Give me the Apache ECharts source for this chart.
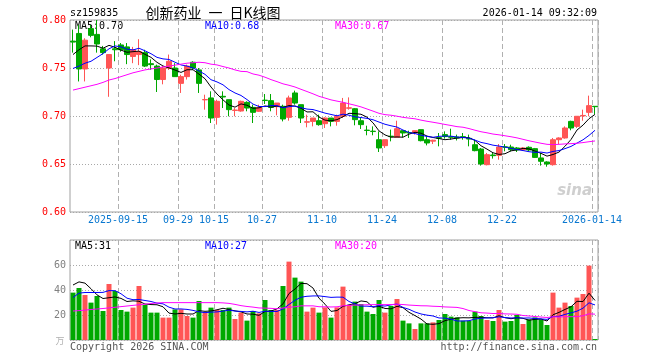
<!DOCTYPE html>
<html><head><meta charset="utf-8">
<script src="https://cdn.jsdelivr.net/npm/echarts@6/dist/echarts.min.js"></script>
<style>html,body{margin:0;padding:0;background:#fff}#c{width:660px;height:360px}</style>
</head><body><div id="c"></div>
<script>
const dates = ['2025-09-03','2025-09-04','2025-09-05','2025-09-08','2025-09-09','2025-09-10','2025-09-11','2025-09-12',
'2025-09-15','2025-09-16','2025-09-17','2025-09-18','2025-09-19','2025-09-22','2025-09-23','2025-09-24','2025-09-25','2025-09-26',
'2025-09-29','2025-09-30','2025-10-09','2025-10-10','2025-10-13','2025-10-14','2025-10-15','2025-10-16','2025-10-17',
'2025-10-20','2025-10-21','2025-10-22','2025-10-23','2025-10-24','2025-10-27','2025-10-28','2025-10-29','2025-10-30','2025-10-31',
'2025-11-03','2025-11-04','2025-11-05','2025-11-06','2025-11-07','2025-11-10','2025-11-11','2025-11-12','2025-11-13','2025-11-14',
'2025-11-17','2025-11-18','2025-11-19','2025-11-20','2025-11-21','2025-11-24','2025-11-25','2025-11-26','2025-11-27','2025-11-28',
'2025-12-01','2025-12-02','2025-12-03','2025-12-04','2025-12-05','2025-12-08','2025-12-09','2025-12-10','2025-12-11','2025-12-12',
'2025-12-15','2025-12-16','2025-12-17','2025-12-18','2025-12-19','2025-12-22','2025-12-23','2025-12-24','2025-12-25','2025-12-26',
'2025-12-29','2025-12-30','2025-12-31','2026-01-05','2026-01-06','2026-01-07','2026-01-08','2026-01-09','2026-01-12','2026-01-13','2026-01-14'];

const opens = [0.778,0.786,0.749,0.791,0.785,0.770,0.750,0.770,0.774,0.772,
0.762,0.764,0.766,0.7545,0.752,0.738,0.750,0.750,0.734,0.741,
0.756,0.748,0.7168,0.7188,0.6986,0.7205,0.717,0.7058,0.7052,0.7142,
0.709,0.7049,0.7165,0.716,0.7097,0.7101,0.6986,0.724,0.7118,0.6936,
0.6944,0.6951,0.692,0.6979,0.6944,0.6997,0.7081,0.7076,0.6951,0.6853,
0.6842,0.6753,0.6691,0.679,0.6778,0.6847,0.6828,0.6823,0.6858,0.6753,
0.6738,0.6775,0.6806,0.6785,0.6781,0.6785,0.6767,0.6701,0.6656,0.6493,
0.6594,0.659,0.6679,0.6677,0.6667,0.6646,0.6674,0.666,0.6563,0.6521,
0.6493,0.6753,0.6771,0.6944,0.6892,0.7001,0.7038,0.7101];
const closes = [0.777,0.749,0.779,0.784,0.775,0.766,0.764,0.769,0.769,0.764,
0.769,0.767,0.752,0.7535,0.738,0.750,0.757,0.741,0.741,0.752,
0.750,0.734,0.7172,0.6979,0.7153,0.7198,0.7066,0.7062,0.7153,0.7083,
0.7038,0.709,0.7161,0.709,0.7135,0.6969,0.7188,0.7135,0.6979,0.694,
0.6979,0.691,0.6979,0.6944,0.6997,0.7135,0.7085,0.6962,0.691,0.6849,
0.6838,0.6667,0.6753,0.6786,0.6868,0.6823,0.6824,0.6847,0.6743,0.6719,
0.6748,0.6768,0.6785,0.6778,0.6771,0.6778,0.676,0.6639,0.65,0.6597,
0.6587,0.6677,0.6675,0.6649,0.6646,0.6667,0.6646,0.6569,0.6528,0.65,
0.6753,0.6771,0.6875,0.6875,0.6997,0.7006,0.7108,0.7097];
const lows = [0.766,0.736,0.736,0.782,0.766,0.764,0.720,0.757,0.767,0.754,
0.755,0.753,0.751,0.748,0.725,0.733,0.748,0.741,0.724,0.738,
0.748,0.724,0.7066,0.6927,0.691,0.7083,0.6997,0.6997,0.7045,0.7049,
0.6927,0.7042,0.7125,0.7049,0.7007,0.6944,0.6951,0.7118,0.6927,0.6882,
0.6892,0.6899,0.6875,0.6892,0.6899,0.6979,0.7066,0.6903,0.6865,0.6799,
0.6799,0.6625,0.6667,0.6736,0.6778,0.6778,0.6771,0.6806,0.6736,0.6694,
0.6708,0.6684,0.6764,0.6753,0.6745,0.6753,0.6684,0.6632,0.6483,0.6486,
0.6556,0.6545,0.6632,0.6632,0.6625,0.6635,0.6632,0.6563,0.6483,0.6472,
0.6483,0.6708,0.6764,0.6851,0.6875,0.6951,0.6997,0.7021];
const highs = [0.790,0.795,0.781,0.795,0.800,0.773,0.764,0.778,0.776,0.776,
0.772,0.780,0.769,0.759,0.7535,0.752,0.764,0.755,0.743,0.7535,
0.757,0.750,0.7222,0.7257,0.717,0.7257,0.717,0.7083,0.716,0.7153,
0.7118,0.7118,0.7229,0.7229,0.7135,0.7118,0.7212,0.7264,0.7118,0.7014,
0.6979,0.7014,0.6986,0.6979,0.7014,0.7188,0.7194,0.7083,0.6986,0.6899,
0.6892,0.684,0.6753,0.6858,0.6951,0.6847,0.6847,0.6847,0.6858,0.6788,
0.6753,0.6823,0.684,0.6868,0.6806,0.6823,0.6806,0.6753,0.6667,0.6615,
0.6615,0.6708,0.6708,0.6701,0.6677,0.6677,0.6684,0.6667,0.6615,0.6528,
0.6771,0.6778,0.6892,0.6951,0.6997,0.7066,0.7212,0.7101];
const volumes = [37.9,41.6,36,29.9,35.2,23.2,44.8,39.2,24,22.7,
25.9,43.2,28,21.9,21.9,17.9,17.9,24.5,24.5,19.2,
17.9,31.2,21.9,25.9,24,24,25.9,16.8,21.9,15.5,
23.2,21.3,32,24,24,43.2,62.7,49.9,46.7,22.7,
25.9,21.9,26.1,17.9,26.1,42.7,28,30.7,28.8,22.7,
20.8,32,21.9,27.2,32.8,15.5,13.3,8.8,13.3,13.3,
14.1,16,20.8,18.7,18.1,15.5,15.5,22.7,19.2,16,
15.2,24,14.7,15.2,20,12.8,16.5,18.1,16.5,12,
37.9,25.9,29.9,27.2,33.9,36.8,59.5,0.8];

// moving-average values for bars before each window is full
const ma5Head = [0.764,0.769,0.773,0.773];
const ma10Head = [0.7495,0.752,0.755,0.757,0.761,0.765,0.770,0.773,0.772];
const ma30Head = [0.727,0.7285,0.730,0.7315,0.733,0.735,0.7375,0.739,0.741,0.743,0.745,0.7465,0.748,0.749,0.750,0.751,0.752,0.753,0.754,0.755,0.7555,0.756,0.7555,0.754,0.7532,0.7515,0.750,0.748,0.7465];
const vma5Head = [44,46.5,45.5,41];
const vma10Head = [34,37.5,38,38,38,38.1,39.5,39.5,37];
const vma30Head = [23.2,23.5,23.9,24.4,24.8,25.2,25.7,26.2,26.7,27.2,27.7,28.2,28.7,29.2,29.6,29.9,29.9,29.9,29.9,29.9,29.9,29.9,29.9,29.9,29.9,29.7,29.3,28.5,27.5];

const tickDates = ['2025-09-15','2025-09-29','2025-10-15','2025-10-27','2025-11-10','2025-11-24','2025-12-08','2025-12-22','2026-01-14'];
const tickLabels = ['2025-09-15','09-29','10-15','10-27','11-10','11-24','12-08','12-22','2026-01-14'];
const priceMaLabels = ['MA5:0.70','MA10:0.68','MA30:0.67'];
const volMaLabels = ['MA5:31','MA10:27','MA30:20'];

function ma(arr, n, head) {
  return arr.map((v, i) => {
    if (i < n - 1) return head[i];
    let s = 0; for (let k = i - n + 1; k <= i; k++) s += arr[k];
    return +(s / n).toFixed(4);
  });
}
const RED = '#ff5555', GREEN = '#00a800';
const candle = dates.map((d, i) => [opens[i], closes[i], lows[i], highs[i]]);
const volData = volumes.map((v, i) => ({value: v, itemStyle: {color: closes[i] >= opens[i] ? RED : GREEN}}));
const isTick = (idx, val) => tickDates.indexOf(val) >= 0;
const MONO = 'DejaVu Sans Mono';

const chart = echarts.init(document.getElementById('c'), null, {renderer: 'canvas'});
const gridCommon = {show: true, borderColor: '#a0a0a0', borderWidth: 1, backgroundColor: 'transparent', containLabel: false, outerBoundsMode: 'none'};
const xCommon = {
  type: 'category', data: dates, boundaryGap: true,
  axisLine: {show: false}, axisTick: {show: false},
  splitLine: {show: true, interval: isTick, lineStyle: {color: '#b0b0b0', type: [5, 3], width: 1}}
};
function txt(x, y, text, fill, font, align) {
  return {type: 'text', x: x, y: y, silent: true,
    style: {text: text, fill: fill, font: font, textAlign: align || 'left', textVerticalAlign: 'middle'}};
}
chart.setOption({
  animation: false,
  grid: [
    Object.assign({left: 70, top: 20, width: 528, height: 192}, gridCommon),
    Object.assign({left: 70, top: 240, width: 528, height: 100}, gridCommon)
  ],
  xAxis: [
    Object.assign({gridIndex: 0, axisLabel: {show: true, interval: isTick, color: '#0a78d0', fontFamily: MONO, fontSize: 10, margin: 3,
      padding: [0, 6, 0, 0], formatter: v => tickLabels[tickDates.indexOf(v)]}}, xCommon),
    Object.assign({gridIndex: 1, axisLabel: {show: false}}, xCommon)
  ],
  yAxis: [
    {gridIndex: 0, min: 0.6, max: 0.8, interval: 0.05, axisLine: {show: false}, axisTick: {show: false},
      axisLabel: {color: '#ff0000', fontFamily: MONO, fontSize: 10, margin: 4, showMinLabel: true, showMaxLabel: true,
        formatter: v => v.toFixed(2)},
      splitLine: {show: true, lineStyle: {color: '#a8a8a8', type: [1, 2]}}},
    {gridIndex: 1, min: 0, max: 80, interval: 20, axisLine: {show: false}, axisTick: {show: false},
      axisLabel: {color: '#808080', fontFamily: MONO, fontSize: 10, margin: 4, showMinLabel: true, showMaxLabel: true,
        formatter: v => (v === 0 || v === 80) ? '' : String(v)},
      splitLine: {show: true, lineStyle: {color: '#a8a8a8', type: [1, 2]}}}
  ],
  series: [
    {type: 'candlestick', xAxisIndex: 0, yAxisIndex: 0, data: candle, barWidth: 5,
      itemStyle: {color: RED, color0: GREEN, borderColor: RED, borderColor0: GREEN, borderWidth: 1}},
    {type: 'line', xAxisIndex: 0, yAxisIndex: 0, data: ma(closes, 5, ma5Head), symbol: 'none', lineStyle: {color: '#000', width: 1}},
    {type: 'line', xAxisIndex: 0, yAxisIndex: 0, data: ma(closes, 10, ma10Head), symbol: 'none', lineStyle: {color: '#0000ff', width: 1}},
    {type: 'line', xAxisIndex: 0, yAxisIndex: 0, data: ma(closes, 30, ma30Head), symbol: 'none', lineStyle: {color: '#ff00ff', width: 1}},
    {type: 'bar', xAxisIndex: 1, yAxisIndex: 1, data: volData, barWidth: 5},
    {type: 'line', xAxisIndex: 1, yAxisIndex: 1, data: ma(volumes, 5, vma5Head), symbol: 'none', lineStyle: {color: '#000', width: 1}},
    {type: 'line', xAxisIndex: 1, yAxisIndex: 1, data: ma(volumes, 10, vma10Head), symbol: 'none', lineStyle: {color: '#0000ff', width: 1}},
    {type: 'line', xAxisIndex: 1, yAxisIndex: 1, data: ma(volumes, 30, vma30Head), symbol: 'none', lineStyle: {color: '#ff00ff', width: 1}}
  ],
  graphic: [
    txt(70, 13, 'sz159835', '#000', '10px ' + MONO),
    txt(213, 13, '创新药业\u2002一\u2002日K线图', '#000', '14px "Noto Sans CJK SC"', 'center'),
    txt(597, 13, '2026-01-14 09:32:09', '#000', '10px ' + MONO, 'right'),
    txt(75, 26, priceMaLabels[0], '#000', '10px ' + MONO),
    txt(205, 26, priceMaLabels[1], '#0000ff', '10px ' + MONO),
    txt(335, 26, priceMaLabels[2], '#ff00ff', '10px ' + MONO),
    txt(75, 246, volMaLabels[0], '#000', '10px ' + MONO),
    txt(205, 246, volMaLabels[1], '#0000ff', '10px ' + MONO),
    txt(335, 246, volMaLabels[2], '#ff00ff', '10px ' + MONO),
    txt(70, 347, 'Copyright 2026 SINA.COM', '#555', '10px ' + MONO),
    txt(597, 347, 'http://finance.sina.com.cn', '#555', '10px ' + MONO, 'right'),
    txt(60, 341, '万', '#b0b0b0', '9px "Noto Sans CJK SC"', 'center'),
    txt(592, 191, 'sina', '#cfcfcf', 'italic bold 15px "DejaVu Sans"', 'right')
  ]
});
</script></body></html>
